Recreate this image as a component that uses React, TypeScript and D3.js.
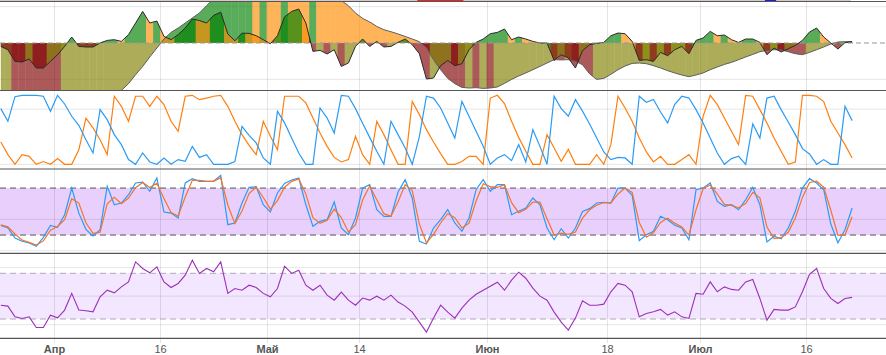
import React from "react";
import * as d3 from "d3";

// one point per day, starting 24 Mar 12:00 UTC
const startDate = "2023-03-24T12:00:00Z";
const domainStart = "2023-03-24T09:19:00Z";
const domainEnd = "2023-07-27T06:43:00Z";

const tickDates = ["2023-04-01", "2023-04-16", "2023-05-01", "2023-05-14", "2023-06-01", "2023-06-18", "2023-07-01", "2023-07-16"];
const tickLabels = ["Апр", "16", "Май", "14", "Июн", "18", "Июл", "16"];

// strip of the price pane above, cut off by the frame
const priceStrip = [
  { from: "2023-03-24T09:00:00Z", to: "2023-07-22T08:00:00Z", color: "#d9c8ca" },
  { from: "2023-05-22T05:00:00Z", to: "2023-05-28T17:00:00Z", color: "#e8271c" },
  { from: "2023-07-10T05:00:00Z", to: "2023-07-11T19:00:00Z", color: "#1a1ae6" },
];

// trend pane: slow (outer) and fast (inner) components
const trendSlow = [
  -180, -178, -185, -188, -190, -192, -194, -196, -198, -196,
  -194, -190, -186, -180, -172, -162, -150, -130.6, -112, -87.3,
  -64.5, -38.6, -13.8, 11, 29.2, 41.3, 55, 68.9, 82.6, 102.8,
  122, 130, 138, 145, 150, 156, 154, 155, 153, 152,
  153, 150, 148, 147, 146, 140, 132, 124, 117, 102.8,
  82.6, 67.8, 57.9, 45.7, 36.6, 31.1, 24.8, 18.2, 11, 3.6,
  -12.9, -46, -73.6, -97.5, -112, -122.3, -124, -123.1, -125, -124,
  -121.2, -111.3, -100.3, -90.9, -82.6, -73.6, -64.5, -55.1, -46, -46.5,
  -46, -50, -60, -85, -100.3, -97.5, -86.4, -73.6, -63.4, -56.2,
  -55.1, -57, -62.5, -68.9, -76.3, -82.6, -88.2, -92.8, -88.2, -82.6,
  -73.6, -66.1, -59, -53.4, -46, -38.6, -31.4, -24, -20.4, -18.5,
  -19, -24, -29.5, -32.2, -25.9, -18.5, -11, -2.8, 2.8, 3.6,
  3.6,
];
const trendSlowColors = [
  "yy", "rrrrrrr", "yyyyyyyyyyyyyy", "ggggggggggggg", "ogoogooog",
  "ooooooooooooooo", "rrrrrr", "yryr", "yyyyyyyyy", "ryr", "rr",
  "yyyyyyyyyyyyyyyyyyyyyyyyyy", "rrrr", "yyyy", "ggo",
].join("");
const trendFast = [
  -9.4, -18.5, -50.7, -52.3, -44, -68.9, -68.9, -50.7, -32.2, -9.4,
  16.5, -9.4, -11, -11, 0, 7.2, 9.1, 4.4, 22.9, 55,
  87, 55, 60.6, 18.2, 9.1, 22.9, 41.3, 66, 62, 55,
  76, 85, 25, 6, 27, 26.6, 20, 9, -2, 20,
  72, 87, 93.6, 55, -23.1, -20.4, -30.3, -18.5, -64.5, -55.1,
  -9.4, 11, -9.4, 4.4, -11, -9.4, 1.7, 11, -4.7, -29.5,
  -99.2, -96.4, -62.5, -47.9, -62.5, -57, -18.5, 1.7, 11, 25.6,
  29.2, 38.6, 9.1, 16.5, 11, 4.4, 0, 0, -48, -32.2,
  -41.3, -68.9, -21, -4.7, -1, 1.7, 20, 27.5, 25.6, 4.4,
  -47.9, -46, -50.7, -25.9, -35, -18.5, -9.4, -29.5, 7.2, 13.8,
  32, 20, 22, 9.1, 1.7, 11, 11, 1.7, -32.2, -13.8,
  -24.8, -15.7, -6.6, 7.2, 30.3, 41.3, 16.5, 0, -16.5, 0.8,
  4.4,
];

const aroonUp = [
  80.7, 62.3, 98, 100, 100, 100, 98.6, 76.8, 100, 87.4,
  69.6, 56.5, 35.7, 16.4, 79.2, 64.7, 43, 28.5, 6.8, 0,
  16.4, 3.4, 0, 9.2, 0, 6.8, 4.3, 26, 10, 14,
  0, 0, 0, 4, 55, 42, 31, 9.2, 0, 76.8,
  60, 38, 16.4, 0, 0, 81.6, 67, 45.4, 100, 98.6,
  80.7, 59.4, 39, 18.8, 0, 62.3, 43, 23.7, 0, 40,
  98.6, 96, 81.6, 60, 38, 91, 69.6, 47.8, 26, 0,
  9.2, 14, 5.3, 28.5, 3.4, 50.2, 26, 0, 98.6, 80.7,
  69.6, 93.7, 77, 58.5, 38, 17.9, 6.8, 10, 9.2, 0,
  98.6, 90, 94, 75.8, 60, 87, 98.6, 96, 79.2, 60,
  38, 16.4, 0, 8.2, 11.6, 0, 58.5, 38, 96, 98.6,
  79.2, 61.4, 43, 22.7, 15, 0, 6.8, 0, 0, 84,
  63.3,
];
const aroonDown = [
  32.4, 14, 0, 14, 11.6, 0, 4, 0, 8.2, 0,
  0, 21, 67, 52.7, 35.7, 14, 98.6, 84, 62.3, 98.6,
  98.6, 84, 98.6, 86.5, 62.3, 47.8, 98.6, 100, 93.7, 96,
  98.6, 100, 84, 62.3, 43, 27.5, 14, 62.3, 40.6, 21,
  98.6, 98.6, 98.6, 89, 67, 45.4, 26, 10, 3.4, 6.8,
  40.6, 14, 0, 62.3, 43, 21, 0, 0, 91, 72,
  50.2, 32.4, 15.5, 0, 0, 4, 11.6, 11.6, 0, 96,
  100, 88, 62.3, 39, 18.8, 0, 0, 43, 23.7, 4.3,
  21.7, 0, 0, 0, 14, 0, 28.5, 98.6, 81.6, 62.3,
  38, 17.9, 3.4, 11.6, 0, 0, 6.8, 14, 0, 69.6,
  100, 86.5, 67, 47.8, 28.5, 100, 98.6, 79.2, 60, 38,
  18.8, 0, 3.4, 100, 100, 98.6, 91, 62.3, 45.4, 28.5,
  9.2,
];

const stochK = [
  32.4, 29, 16.2, 12, 9.8, 5.6, 17.1, 32.4, 29.9, 46,
  80, 48, 27.3, 18.8, 26.8, 82.2, 58.7, 60.9, 71.5, 86.5,
  87.7, 75.9, 92.8, 49.4, 48.1, 41.8, 86.5, 92, 88.6, 88.6,
  88.6, 96.3, 33.2, 35.4, 60.9, 81, 81.7, 58.7, 49.4, 73.7,
  86, 90.3, 92.8, 58.7, 31.1, 37.5, 39.6, 62.2, 29, 20.4,
  41.8, 80, 84.3, 52.4, 43.9, 43.9, 75, 90.7, 67.3, 12,
  8.6, 29, 39.6, 52.4, 35.4, 24.8, 41.8, 77.9, 90.7, 75.9,
  84.3, 84.3, 46, 50.3, 54.5, 67.3, 58.7, 29, 14, 28.1,
  16.2, 29, 50, 53.7, 60.9, 61.8, 60.9, 80, 80, 70.7,
  12.8, 20.4, 24.8, 43.9, 39.6, 32.4, 29, 14, 77.9, 80,
  86.5, 63, 56.7, 58.7, 52.4, 65.1, 81, 58.7, 11.1, 18.4,
  15.3, 29, 50.3, 80, 92, 86.5, 77.9, 34.1, 10.2, 26.8,
  54.5,
];
const stochD = [
  33, 30.4, 21.3, 13.7, 10.7, 7.3, 12.5, 26.2, 30.9, 39.6,
  66.4, 60.8, 35.6, 22.2, 23.6, 60, 68.1, 60, 67.3, 80.5,
  87.2, 80.6, 86.1, 66.7, 48.7, 44.3, 68.6, 89.8, 90, 88.6,
  88.6, 93.2, 58.4, 34.5, 50.7, 73, 81.4, 67.9, 53.1, 64,
  81.1, 88.6, 91.8, 72.3, 42.2, 34.9, 38.8, 53.1, 42.3, 23.8,
  33.3, 64.7, 82.6, 65.1, 47.3, 43.9, 62.6, 84.4, 76.7, 34.1,
  10, 20.8, 35.4, 47.2, 42.2, 29.1, 35, 63.4, 85.6, 81.8,
  81, 84.3, 61.3, 48.6, 52.8, 62.2, 62.1, 40.9, 20, 22.5,
  20.9, 23.9, 41.6, 52.2, 58, 61.5, 61.2, 72.4, 80, 74.4,
  36, 17.3, 23.1, 36.2, 41.4, 35.2, 30.4, 20, 52.3, 79.2,
  83.9, 72.4, 59.2, 57.9, 54.9, 60.1, 74.6, 67.6, 30.2, 15.4,
  16.6, 23.5, 41.8, 68.1, 87.2, 88.7, 81.3, 51.7, 19.7, 20.2,
  43.4,
];

const rsi = [
  42.1, 41.3, 31.9, 30.5, 31.9, 22.6, 22.6, 33.4, 31, 37.8,
  52.4, 37.8, 37.2, 36.3, 49.4, 55.2, 52.9, 58.1, 62.5, 80,
  74.2, 70.4, 75.6, 62.5, 57.6, 61.1, 68.4, 81.5, 69.9, 74.2,
  71.3, 80, 52.4, 56.7, 55.2, 59.6, 57.6, 52.4, 49.4, 56.7,
  76.2, 69.9, 72.7, 59.6, 55.2, 59.6, 50.9, 46.5, 53.5, 46.5,
  42.1, 48.3, 46.5, 50, 46.5, 50.9, 44.8, 41.3, 36, 27.3,
  18.5, 30.8, 42.1, 36, 30.8, 39.5, 46.5, 51.7, 55.2, 58.7,
  62.2, 55.2, 64, 71, 65.7, 57, 50, 46.5, 36, 27.3,
  20.3, 30.8, 45.9, 42.1, 42.1, 43, 53.8, 61.1, 59.6, 53.8,
  31.9, 34.8, 36.3, 38.4, 33.4, 36.3, 31.9, 30.5, 52.4, 51.7,
  62.5, 53.8, 58.1, 55.9, 55.2, 62.5, 64.6, 48, 29, 38.4,
  37.8, 37.8, 40.6, 53.8, 69.2, 74.2, 56.7, 48, 43.6, 48,
  48.9,
];

const W = 886;
const H = 355;
const DAY = 864e5;
const palette: Record<string, string> = { g: "green", o: "darkorange", y: "olive", r: "maroon" };
const borders = [1.5, 90.5, 169, 253.3, 338.3];
const grid = "rgba(0,0,0,0.1)";

function fastColor(v: number, prev: number) {
  if (v >= 0) return v >= prev ? "g" : "o";
  return v <= prev ? "r" : "y";
}

export default function App() {
  const t0 = Date.parse(startDate);
  const dates = rsi.map((_, i) => new Date(t0 + i * DAY));
  const x = d3.scaleUtc().domain([new Date(domainStart), new Date(domainEnd)]).range([0, W]);

  const yTrend = d3.scaleLinear().domain([-100, 100]).range([79.3, 6.7]);
  const yAroon = d3.scaleLinear().domain([0, 100]).range([164.3, 95.3]);
  const yStoch = d3.scaleLinear().domain([0, 100]).range([250.7, 172.4]);
  const yRsi = d3.scaleLinear().domain([30, 70]).range([319, 273.3]);

  const lineOf = (ys: (v: number) => number) =>
    d3.line<number>().x((_, i) => x(dates[i])).y((v) => ys(v));

  // one area piece per day, reaching half way to each neighbour
  const piece = (vals: number[], i: number) => {
    const half = DAY * 0.53;
    const t = dates[i].getTime();
    const pts: [number, number][] = [];
    if (i > 0) pts.push([t - half, vals[i] + ((vals[i - 1] - vals[i]) * half) / DAY]);
    pts.push([t, vals[i]]);
    if (i < vals.length - 1) pts.push([t + half, vals[i] + ((vals[i + 1] - vals[i]) * half) / DAY]);
    return d3
      .area<[number, number]>()
      .x((d) => x(new Date(d[0])))
      .y0(yTrend(0))
      .y1((d) => yTrend(d[1]))(pts) as string;
  };

  const ticks = tickDates.map((d, i) => ({ x: Math.round(x(new Date(d + "T00:00:00Z"))) + 0.5, label: tickLabels[i] }));

  return (
    <>
      <style>{`body{margin:0}`}</style>
      <svg width={W} height={H} style={{ display: "block", fontFamily: "'Liberation Sans', Arial, sans-serif" }}>
        <defs>
          <clipPath id="trendClip">
            <rect x={0} y={2} width={W} height={88.5} />
          </clipPath>
        </defs>

        {priceStrip.map((s, i) => (
          <rect key={i} x={x(new Date(s.from))} y={0} width={x(new Date(s.to)) - x(new Date(s.from))} height={1.2} fill={s.color} />
        ))}

        {/* bands */}
        <rect x={0} y={yStoch(80)} width={W} height={yStoch(20) - yStoch(80)} fill="#e9d0fc" />
        <rect x={0} y={yRsi(70)} width={W} height={yRsi(30) - yRsi(70)} fill="#f3e7ff" />

        {/* grid */}
        {ticks.map((t, i) => (
          <line key={i} x1={t.x} x2={t.x} y1={2} y2={343} stroke={grid} />
        ))}
        {[-100, 100].map((v) => (
          <line key={"t" + v} x1={0} x2={W} y1={yTrend(v)} y2={yTrend(v)} stroke={grid} />
        ))}
        {[0, 80].map((v) => (
          <line key={"a" + v} x1={0} x2={W} y1={yAroon(v)} y2={yAroon(v)} stroke={grid} />
        ))}
        {[0, 40].map((v) => (
          <line key={"s" + v} x1={0} x2={W} y1={yStoch(v)} y2={yStoch(v)} stroke={grid} />
        ))}
        {[25, 50, 75].map((v) => (
          <line key={"r" + v} x1={0} x2={W} y1={yRsi(v)} y2={yRsi(v)} stroke={grid} />
        ))}

        {/* trend pane */}
        <g clipPath="url(#trendClip)">
          <g opacity={0.65}>
            {trendSlow.map((_, i) => (
              <path key={i} d={piece(trendSlow, i)} fill={palette[trendSlowColors[i]]} />
            ))}
          </g>
          <g opacity={0.65}>
            {trendFast.map((v, i) => (
              <path key={i} d={piece(trendFast, i)} fill={palette[fastColor(v, i > 0 ? trendFast[i - 1] : v)]} />
            ))}
          </g>
          <path d={lineOf(yTrend)(trendSlow) as string} fill="none" stroke="#5e5e5e" strokeWidth={1} />
          <path d={lineOf(yTrend)(trendFast) as string} fill="none" stroke="#2a2a2a" strokeWidth={1} />
        </g>
        <line x1={0} x2={W} y1={yTrend(0)} y2={yTrend(0)} stroke="#999" strokeDasharray="5,3" />

        {/* aroon */}
        <path d={lineOf(yAroon)(aroonDown) as string} fill="none" stroke="#ff7f0e" strokeWidth={1.2} />
        <path d={lineOf(yAroon)(aroonUp) as string} fill="none" stroke="#2b9bf4" strokeWidth={1.2} />

        {/* stochastic rsi */}
        {[80, 20].map((v) => (
          <line key={"sd" + v} x1={0} x2={W} y1={yStoch(v)} y2={yStoch(v)} stroke="#555" strokeDasharray="6,4" />
        ))}
        <path d={lineOf(yStoch)(stochK) as string} fill="none" stroke="#2b9bf4" strokeWidth={1.2} />
        <path d={lineOf(yStoch)(stochD) as string} fill="none" stroke="#f5732a" strokeWidth={1.2} />

        {/* rsi */}
        {[70, 30].map((v) => (
          <line key={"rd" + v} x1={0} x2={W} y1={yRsi(v)} y2={yRsi(v)} stroke="#b0a8b8" strokeDasharray="6,4" />
        ))}
        <path d={lineOf(yRsi)(rsi) as string} fill="none" stroke="#9b30b8" strokeWidth={1.1} />

        {borders.map((b) => (
          <line key={b} x1={0} x2={W} y1={b} y2={b} stroke="#555" strokeWidth={1.2} />
        ))}

        {ticks.map((t, i) => (
          <text
            key={"l" + i}
            x={t.x}
            y={353}
            textAnchor="middle"
            fontSize={11}
            fontWeight={isNaN(Number(t.label)) ? 700 : 400}
            fill="#555"
          >
            {t.label}
          </text>
        ))}
      </svg>
    </>
  );
}
